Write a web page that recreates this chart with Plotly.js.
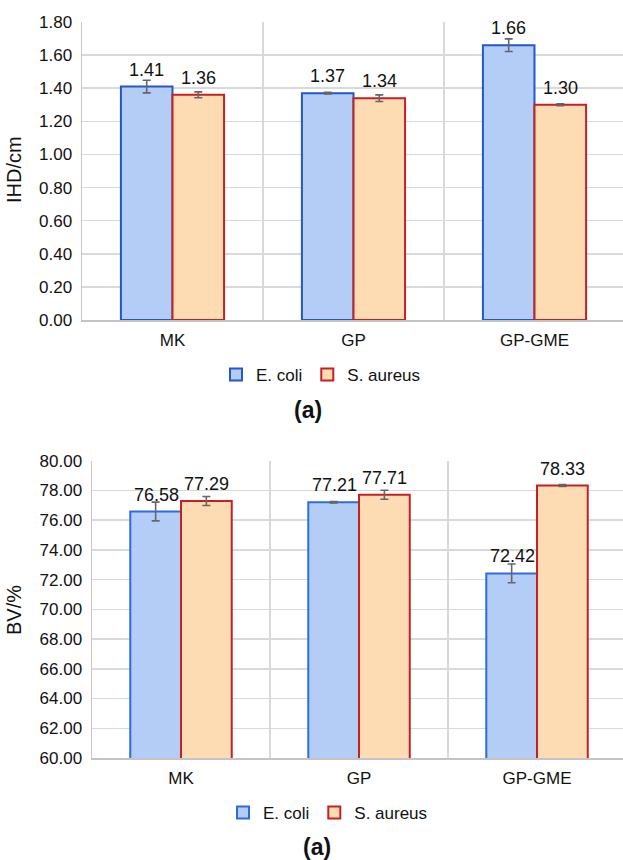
<!DOCTYPE html>
<html><head><meta charset="utf-8">
<script src="https://cdn.plot.ly/plotly-3.0.1.min.js"></script>
<style>html,body{margin:0;padding:0;background:#fff}#chart{width:623px;height:860px}</style>
</head><body><div id="chart"></div>
<script>
const categories = ["MK", "GP", "GP-GME"];
const seriesNames = ["E. coli", "S. aureus"];

const ihdEcoli = [1.41, 1.37, 1.66];
const ihdEcoliErr = [0.038, 0.005, 0.038];
const ihdSaureus = [1.36, 1.34, 1.30];
const ihdSaureusErr = [0.018, 0.02, 0.006];

const bvEcoli = [76.58, 77.21, 72.42];
const bvEcoliErr = [0.63, 0.05, 0.63];
const bvSaureus = [77.29, 77.71, 78.33];
const bvSaureusErr = [0.3, 0.3, 0.07];

const ihdTicks = [0, 0.2, 0.4, 0.6, 0.8, 1.0, 1.2, 1.4, 1.6, 1.8];
const bvTicks = [60, 62, 64, 66, 68, 70, 72, 74, 76, 78, 80];

const FONT = "Liberation Sans, Arial, Helvetica, sans-serif";
const blueFill = "#b3cdf6", blueLine = "#2457c8";
const peachFill = "#fddcb4", redLine = "#c42025";
const errStyle = (arr) => ({type: "data", array: arr, visible: true, color: "#666666", thickness: 1.6, width: 4});

function bar(name, x, y, err, fill, line, xa, ya, leg, lineColor) {
  return {type: "bar", name: name, x: x, y: y, xaxis: xa, yaxis: ya, legend: leg,
    marker: {color: fill, line: {color: lineColor || line, width: 2}},
    error_y: errStyle(err), hoverinfo: "skip"};
}

const data = [
  bar(seriesNames[0], categories, ihdEcoli, ihdEcoliErr, blueFill, blueLine, "x", "y", "legend"),
  bar(seriesNames[1], categories, ihdSaureus, ihdSaureusErr, peachFill, redLine, "x", "y", "legend"),
  bar(seriesNames[0], categories, bvEcoli, bvEcoliErr, blueFill, blueLine, "x2", "y2", "legend2", "#2f6ae0"),
  bar(seriesNames[1], categories, bvSaureus, bvSaureusErr, peachFill, redLine, "x2", "y2", "legend2")
];

const annotations = [];
function addLabels(vals, shift, xref, yref) {
  vals.forEach((v, i) => annotations.push({x: categories[i], y: v, xref: xref, yref: yref,
    text: v.toFixed(2), showarrow: false, yanchor: "bottom", xanchor: "center", xshift: shift, yshift: 5,
    font: {family: FONT, size: 18, color: "#111"}}));
}
addLabels(ihdEcoli, -26, "x", "y");
addLabels(ihdSaureus, 26, "x", "y");
addLabels(bvEcoli, -25, "x2", "y2");
addLabels(bvSaureus, 25, "x2", "y2");

annotations.push({text: "<b>(a)</b>", xref: "paper", yref: "paper", x: 308/623, y: 1 - 410/860,
  xanchor: "center", yanchor: "middle", showarrow: false, font: {family: FONT, size: 23, color: "#111"}});
annotations.push({text: "<b>(a)</b>", xref: "paper", yref: "paper", x: 317/623, y: 1 - 847/860,
  xanchor: "center", yanchor: "middle", showarrow: false, font: {family: FONT, size: 23, color: "#111"}});
annotations.push({text: "IHD/cm", xref: "paper", yref: "paper", x: 14/623, y: 1 - 170/860,
  xanchor: "center", yanchor: "middle", textangle: -90, showarrow: false, font: {family: FONT, size: 20, color: "#111"}});
annotations.push({text: "BV/%", xref: "paper", yref: "paper", x: 14/623, y: 1 - 610/860,
  xanchor: "center", yanchor: "middle", textangle: -90, showarrow: false, font: {family: FONT, size: 20, color: "#111"}});

const xCommon = {type: "category", showgrid: true, gridcolor: "#d9d9d9", gridwidth: 1.5, tickson: "boundaries",
  ticks: "", showline: true, linecolor: "#c4c4c4", linewidth: 2, zeroline: false, fixedrange: true,
  tickfont: {family: FONT, size: 17, color: "#111"}, ticklabelstandoff: 4};
const yCommon = {showgrid: true, gridcolor: "#d9d9d9", gridwidth: 1.5, showline: true, linecolor: "#c8c8c8", linewidth: 1.5,
  zeroline: false, ticks: "", tickformat: ".2f", tickmode: "array", fixedrange: true,
  tickfont: {family: FONT, size: 17, color: "#111"}, ticklabelstandoff: 5};

const layout = {
  width: 623, height: 860, margin: {l: 0, r: 0, t: 0, b: 0},
  paper_bgcolor: "#fff", plot_bgcolor: "#fff",
  barmode: "group", bargap: 0.43, bargroupgap: 0,
  font: {family: FONT, color: "#111"},
  xaxis: Object.assign({}, xCommon, {domain: [82/623, 1], range: [-0.5, 2.489], anchor: "y"}),
  yaxis: Object.assign({}, yCommon, {domain: [1 - 320/860, 1 - 22/860], range: [0, 1.8], tickvals: ihdTicks, anchor: "x"}),
  xaxis2: Object.assign({}, xCommon, {domain: [92/623, 1], range: [-0.5, 2.483], anchor: "y2"}),
  yaxis2: Object.assign({}, yCommon, {domain: [1 - 758/860, 1 - 460.7/860], range: [60, 80], tickvals: bvTicks, anchor: "x2"}),
  legend: {orientation: "h", x: 321/623, y: 1 - 375/860, xanchor: "center", yanchor: "middle",
    font: {family: FONT, size: 17, color: "#111"}, itemwidth: 30, traceorder: "normal", bgcolor: "rgba(0,0,0,0)"},
  legend2: {orientation: "h", x: 328/623, y: 1 - 813/860, xanchor: "center", yanchor: "middle",
    font: {family: FONT, size: 17, color: "#111"}, itemwidth: 30, traceorder: "normal", bgcolor: "rgba(0,0,0,0)"},
  annotations: annotations,
  showlegend: true
};

Plotly.newPlot("chart", data, layout, {displayModeBar: false, staticPlot: true});
</script></body></html>
